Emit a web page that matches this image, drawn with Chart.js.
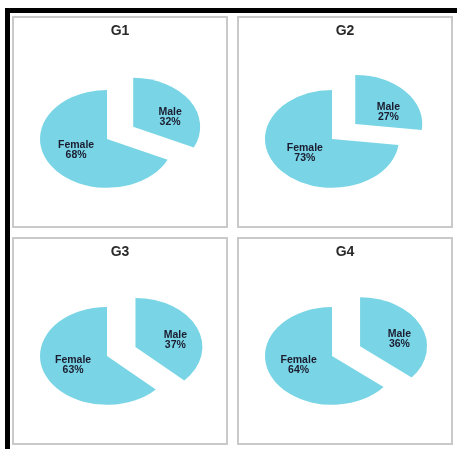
<!DOCTYPE html>
<html>
<head>
<meta charset="utf-8">
<script src="https://cdn.jsdelivr.net/npm/chart.js@4.4.1/dist/chart.umd.min.js"></script>
<style>
  body { margin: 0; background: #fff; width: 457px; height: 449px; overflow: hidden; position: relative; }
  #frame { position: absolute; left: 5px; top: 8px; width: 470px; height: 460px;
           border-top: 5px solid #000; border-left: 5px solid #000; }
  .panel { position: absolute; box-sizing: border-box; border: 2px solid #c9c9c9; background: #fff; }
  .panel canvas { display: block; }
</style>
</head>
<body>
<div id="frame"></div>
<div class="panel" style="left:12px;top:16px;width:216px;height:212px"><canvas id="g1" width="212" height="208"></canvas></div>
<div class="panel" style="left:237px;top:16px;width:216px;height:212px"><canvas id="g2" width="212" height="208"></canvas></div>
<div class="panel" style="left:12px;top:237px;width:216px;height:208px"><canvas id="g3" width="212" height="204"></canvas></div>
<div class="panel" style="left:237px;top:237px;width:216px;height:208px"><canvas id="g4" width="212" height="204"></canvas></div>
<script>
const groups = ["G1", "G2", "G3", "G4"];
const categories = ["Male", "Female"];
const maleShare = [32, 27, 37, 36];
const femaleShare = [68, 73, 63, 64];

const sliceColor = "rgb(121, 213, 229)";
const labelColor = "#1b1c30";
const fontFamily = "'Liberation Sans', Arial, sans-serif";

// fake 3D look: squash the pie vertically and pull the first slice out
const squash = 0.73;
const explode = [31, 0];
const pieShiftX = -13;

const pie3d = {
	id: "pie3d",
	beforeDatasetsDraw(chart) {
		const ctx = chart.ctx;
		const meta = chart.getDatasetMeta(0);
		const values = chart.data.datasets[0].data;

		meta.data.forEach((arc, i) => {
			const mid = (arc.startAngle + arc.endAngle) / 2;
			const d = explode[i] || 0;
			ctx.save();
			ctx.translate(arc.x + pieShiftX, arc.y);
			ctx.scale(1, squash);
			ctx.translate(-arc.x + Math.cos(mid) * d, -arc.y + Math.sin(mid) * d);
			arc.draw(ctx);
			ctx.restore();
		});

		ctx.save();
		ctx.fillStyle = labelColor;
		ctx.font = "bold 10.5px " + fontFamily;
		ctx.textAlign = "center";
		ctx.textBaseline = "middle";
		meta.data.forEach((arc, i) => {
			const mid = (arc.startAngle + arc.endAngle) / 2;
			const d = explode[i] || 0;
			const lx = arc.x + pieShiftX + 3 + Math.cos(mid) * (d + arc.outerRadius * 0.6);
			const ly = arc.y + 1 + Math.sin(mid) * (d + arc.outerRadius * 0.4) * squash;
			ctx.fillText(chart.data.labels[i], lx, ly - 5);
			ctx.fillText(values[i] + "%", lx, ly + 5);
		});
		ctx.restore();
		return false;
	},
};

groups.forEach((name, i) => {
	const canvas = document.getElementById(name.toLowerCase());
	new Chart(canvas, {
		type: "pie",
		data: {
			labels: categories,
			datasets: [{
				data: [maleShare[i], femaleShare[i]],
				backgroundColor: sliceColor,
				borderWidth: 0,
			}],
		},
		options: {
			responsive: false,
			animation: false,
			events: [],
			radius: 67,
			layout: { padding: { left: 0, right: 0, top: 0, bottom: 214 - canvas.height } },
			plugins: {
				legend: { display: false },
				tooltip: { enabled: false },
				title: {
					display: true,
					text: name,
					color: "#2a2a2a",
					font: { family: fontFamily, size: 14, weight: "bold" },
					padding: { top: 5, bottom: 18 },
				},
			},
		},
		plugins: [pie3d],
	});
});
</script>
</body>
</html>
